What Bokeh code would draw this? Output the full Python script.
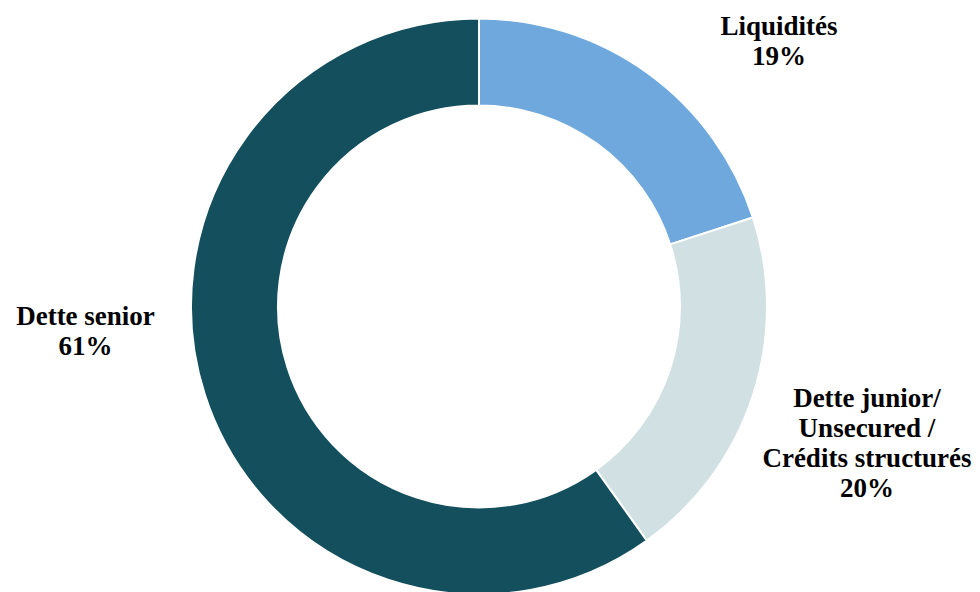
import math
from bokeh.plotting import figure
from bokeh.models import Range1d, ColumnDataSource
from bokeh.core.properties import value
from bokeh.embed import file_html
from bokeh.resources import INLINE

# Data
categories = ["Liquidités", "Dette junior/\nUnsecured /\nCrédits structurés", "Dette senior"]
shares = [20.0, 20.1, 59.9]           # share of the ring
pct_labels = ["19%", "20%", "61%"]    # labels as printed
colors = ["#6FA8DC", "#D0E0E3", "#134F5C"]

# Layout / style
W, H = 980, 592
cx, cy = 478.5, H - 306
r_out, r_in = 288, 201
label_pos = [(778.5, H - 40), (866.5, H - 442), (85, H - 330)]

total = sum(shares)
starts, ends = [], []
acc = 0.0
for s in shares:
    starts.append(math.pi / 2 - 2 * math.pi * acc / total)
    acc += s
    ends.append(math.pi / 2 - 2 * math.pi * acc / total)

src = ColumnDataSource(dict(start=starts, end=ends, color=colors))

p = figure(width=W, height=H, x_range=Range1d(0, W), y_range=Range1d(0, H),
           output_backend="svg", toolbar_location=None, min_border=0)
p.axis.visible = False
p.grid.visible = False
p.outline_line_color = None
p.background_fill_color = "white"

p.annular_wedge(x=cx, y=cy, inner_radius=r_in, outer_radius=r_out,
                start_angle="start", end_angle="end", direction="clock",
                fill_color="color", line_color="white", line_width=2, source=src)

texts = [c + "\n" + pc for c, pc in zip(categories, pct_labels)]
p.text(x=[lp[0] for lp in label_pos], y=[lp[1] for lp in label_pos], text=texts,
       text_align="center", text_baseline="middle",
       text_font=value("Liberation Serif"), text_font_style="bold",
       text_font_size="27px", text_line_height=1.0, text_color="black")

open("out.html", "w").write(file_html(p, INLINE))
